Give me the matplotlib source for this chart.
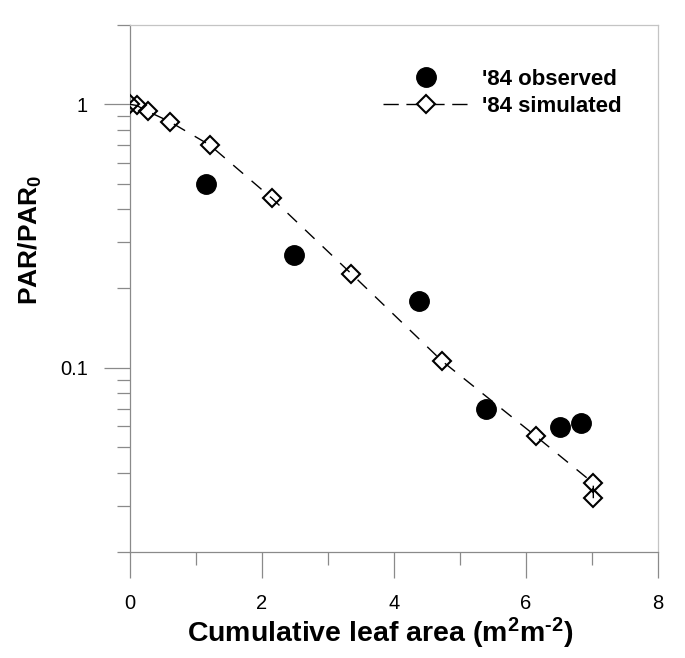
import matplotlib
matplotlib.use("Agg")
import matplotlib.pyplot as plt
from matplotlib.lines import Line2D
from matplotlib.ticker import FixedLocator, FuncFormatter, LogLocator, NullFormatter

# ---- data ----
sim_x = [0.0, 0.1, 0.27, 0.6, 1.21, 2.15, 3.35, 4.73, 6.15, 7.02, 7.02]
sim_y = [1.0, 0.99, 0.94, 0.86, 0.70, 0.44, 0.228, 0.106, 0.055, 0.0365, 0.032]

obs_x = [1.15, 2.48, 4.38, 5.40, 6.52, 6.84]
obs_y = [0.50, 0.269, 0.179, 0.0697, 0.0597, 0.0616]

x_major = [0, 2, 4, 6, 8]
x_minor = [1, 3, 5, 7]
y_major = [0.1, 1]

label_obs = "'84 observed"
label_sim = "'84 simulated"
xlabel = r"Cumulative leaf area (m$^{\mathbf{2}}$m$^{\text{-}\mathbf{2}}$)"
ylabel = r"PAR/PAR$_{\mathbf{0}}$"

plt.rcParams['font.family'] = ['Liberation Sans', 'DejaVu Sans']
plt.rcParams['mathtext.fontset'] = 'custom'
plt.rcParams['mathtext.rm'] = 'Liberation Sans:bold'
plt.rcParams['mathtext.bf'] = 'Liberation Sans:bold'
plt.rcParams['mathtext.it'] = 'Liberation Sans:italic'

W, H = 685, 658
fig = plt.figure(figsize=(W / 100, H / 100), dpi=100)
ax = fig.add_axes([130 / W, 106 / H, 528 / W, 527 / H])

ax.set_yscale('log')
ax.set_xlim(0, 8)
ax.set_ylim(0.02, 2)

spine_col = '#8a8a8a'
for s in ['left', 'bottom']:
    ax.spines[s].set_color(spine_col)
    ax.spines[s].set_linewidth(0.9)
for s in ['top', 'right']:
    ax.spines[s].set_color('#c4c4c4')
    ax.spines[s].set_linewidth(0.9)

ax.xaxis.set_major_locator(FixedLocator(x_major))
ax.xaxis.set_minor_locator(FixedLocator(x_minor))
ax.yaxis.set_major_locator(FixedLocator(y_major))
ax.yaxis.set_minor_locator(LogLocator(base=10, subs=range(2, 10)))
ax.yaxis.set_major_formatter(FuncFormatter(lambda v, p: '%g' % v))
ax.yaxis.set_minor_formatter(NullFormatter())

ax.tick_params(which='both', direction='out', color=spine_col, width=0.9,
               top=False, right=False, labelsize=14.5, labelcolor='black')
ax.tick_params(which='major', length=18.7)
ax.tick_params(which='minor', length=9.6)
ax.tick_params(axis='x', which='major', pad=11.5)
ax.tick_params(axis='y', which='major', pad=11.5)

# simulated: dashed line with open diamonds
ax.plot(sim_x, sim_y, color='black', lw=1.0, dashes=(9.4, 8),
        marker='D', ms=9.5, mfc='none', mec='black', mew=1.5, zorder=3)
# observed: filled circles
ax.plot(obs_x, obs_y, ls='none', marker='o', ms=14, color='black', zorder=4)

ax.set_xlabel(xlabel, fontsize=20.5, fontweight='bold')
ax.xaxis.label.set_va('baseline')
ax.xaxis.set_label_coords(0.474, (552 - 642) / 527)

ax.set_ylabel(ylabel, fontsize=19, fontweight='bold')
ax.yaxis.label.set_va('baseline')
ax.yaxis.set_label_coords((37.5 - 130) / 528, (552 - 240) / 527)

h_obs = Line2D([], [], ls='none', marker='o', ms=14, color='black')
h_sim = Line2D([], [], color='black', lw=1.0, dashes=(11, 5.5), marker='D',
               ms=9.5, mfc='white', mec='black', mew=1.5)
ax.legend([h_obs, h_sim], [label_obs, label_sim], loc='upper left',
          bbox_to_anchor=(383 / W, (H - 69) / H), bbox_transform=fig.transFigure,
          frameon=False, borderpad=0, borderaxespad=0, handlelength=3.9,
          handletextpad=0.54, labelspacing=0.27, numpoints=1,
          prop={'weight': 'bold', 'size': 16})

fig.savefig('out.png', dpi=100)
